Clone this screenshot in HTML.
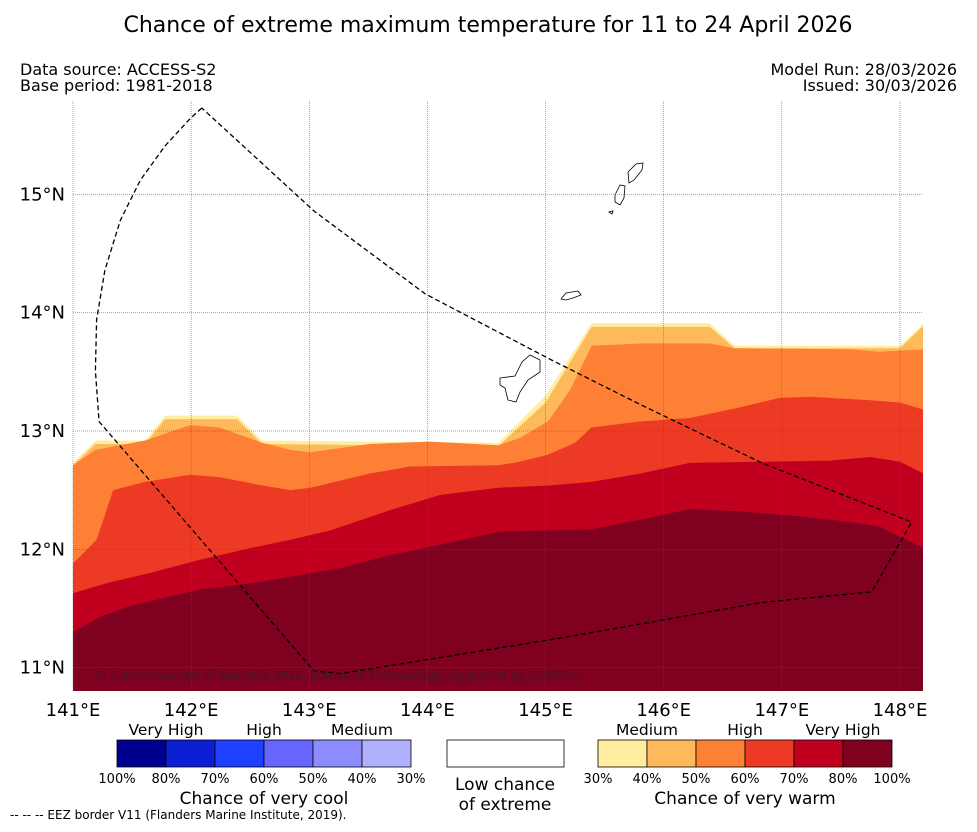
<!DOCTYPE html>
<html><head><meta charset="utf-8"><style>
body{margin:0;background:#fff;font-family:"Liberation Sans","DejaVu Sans",sans-serif;}
svg text{font-family:"DejaVu Sans","Liberation Sans",sans-serif;}
</style></head><body>
<svg id="c" width="977" height="827" xmlns="http://www.w3.org/2000/svg">
<text x="488" y="32" font-size="22" text-anchor="middle">Chance of extreme maximum temperature for 11 to 24 April 2026</text>
<text x="20" y="75" font-size="16">Data source: ACCESS-S2</text>
<text x="20" y="91" font-size="16">Base period: 1981-2018</text>
<text x="957" y="75" font-size="16" text-anchor="end">Model Run: 28/03/2026</text>
<text x="957" y="91" font-size="16" text-anchor="end">Issued: 30/03/2026</text>
<g id="map"></g>
<g id="legend"></g>
<text x="10" y="819" font-size="12">--  --  -- EEZ border V11 (Flanders Marine Institute, 2019).</text>
</svg>
<script>
const lon30=[141,141.19,141.61,141.78,142.39,142.6,144.6,145,145.39,146.39,146.6,148,148.2];
const lat30=[12.73,12.92,12.92,13.13,13.13,12.92,12.90,13.30,13.91,13.91,13.72,13.72,13.91];
const lon40=[141,141.19,141.61,141.78,142.39,142.6,144.6,145,145.39,146.39,146.6,148,148.2];
const lat40=[12.71,12.89,12.89,13.10,13.10,12.89,12.87,13.24,13.88,13.88,13.70,13.70,13.89];
const lon50=[141,141.19,141.61,141.99,142.24,142.6,142.84,143.01,143.51,144.02,144.6,144.78,145.02,145.21,145.39,145.8,146.39,146.6,147.58,147.83,148.2];
const lat50=[12.71,12.84,12.92,13.05,13.03,12.9,12.84,12.82,12.89,12.91,12.88,12.94,13.08,13.35,13.72,13.74,13.74,13.70,13.69,13.67,13.69];
const lon60=[141,141.2,141.34,141.61,141.99,142.24,142.6,142.84,143.01,143.51,143.85,144.6,144.78,145.02,145.25,145.39,145.8,146.22,146.65,146.98,147.24,147.75,148,148.2];
const lat60=[11.88,12.08,12.5,12.57,12.63,12.61,12.54,12.5,12.52,12.64,12.7,12.71,12.74,12.8,12.9,13.03,13.08,13.11,13.2,13.28,13.29,13.26,13.24,13.18];
const lon70=[141,141.31,141.65,142.07,142.5,142.84,143.18,143.68,144.11,144.6,145.04,145.39,145.8,146.22,146.82,147.41,147.75,148,148.2];
const lat70=[11.63,11.72,11.8,11.91,12.01,12.08,12.16,12.33,12.46,12.52,12.54,12.57,12.64,12.73,12.74,12.75,12.78,12.74,12.64];
const lon80=[141,141.23,141.48,142.07,142.41,142.67,143.26,143.68,144.11,144.61,145.04,145.39,145.8,146.22,146.65,147.15,147.58,147.83,148.2];
const lat80=[11.3,11.43,11.52,11.66,11.7,11.74,11.84,11.95,12.04,12.15,12.16,12.17,12.25,12.34,12.32,12.28,12.23,12.19,12.01];
const bandColors=['#ffeda0','#fdb95a','#fd8035','#ec3a25','#c10020','#800020'];
const bandNames=['band-30','band-40','band-50','band-60','band-70','band-80'];
const lonTicks=[141,142,143,144,145,146,147,148];
const latTicks=[11,12,13,14,15];
const eezLon=[142.09,141.99,141.78,141.57,141.4,141.27,141.2,141.19,141.22,141.22,143.04,143.27,144.2,145.13,145.98,146.83,147.76,148.1,146.83,145.81,145.05,143.98,143.04,142.09];
const eezLat=[15.73,15.64,15.41,15.12,14.78,14.36,13.94,13.51,13.09,13.08,10.97,10.95,11.1,11.25,11.4,11.55,11.64,12.23,12.73,13.22,13.6,14.16,14.86,15.73];
const X0=73,X1=923,Y0=101,Y1=691;
const x=l=>73+(l-141)*118.14;
const y=l=>431-(l-13)*118.3;
const NS='http://www.w3.org/2000/svg';
function mk(t,a,p){const e=document.createElementNS(NS,t);for(const k in a)e.setAttribute(k,a[k]);p.appendChild(e);return e;}
const map=document.getElementById('map');
const cp=mk('clipPath',{id:'clip'},map);mk('rect',{x:X0,y:Y0,width:X1-X0,height:Y1-Y0},cp);
const g=mk('g',{'clip-path':'url(#clip)'},map);
const bands=[[lon30,lat30],[lon40,lat40],[lon50,lat50],[lon60,lat60],[lon70,lat70],[lon80,lat80]];
bands.forEach((b,i)=>{
 let d='M'+x(b[0][0])+','+Y1;
 b[0].forEach((lo,j)=>{d+=' L'+x(lo).toFixed(1)+','+y(b[1][j]).toFixed(1);});
 d+=' L'+x(b[0][b[0].length-1])+','+Y1+' Z';
 const p=mk('path',{d:d,fill:bandColors[i]},g);
 
 
});
const isl=[
 'M500,378 L515,376 L522,362 L530,355 L540,360 L540,372 L528,380 L520,392 L516,402 L508,400 L505,388 L500,385 Z',
 'M561,299 L566,293 L578,291 L581,295 L573,298 L566,300 Z',
 'M628,172 L636,164 L643,163 L642,170 L634,180 L629,183 Z',
 'M615,195 L620,185 L625,186 L624,198 L620,205 L615,202 Z',
 'M609,212 L613,211 L612,214 Z'];
isl.forEach(d=>{const p=mk('path',{d:d,fill:'none',stroke:'#000','stroke-width':0.8},g);
 
 });
lonTicks.forEach(l=>{const ln=mk('line',{x1:x(l),x2:x(l),y1:Y0,y2:Y1,stroke:'#555','stroke-width':0.5,'stroke-dasharray':'1,1'},map);
 
 
 const t=mk('text',{x:x(l),y:716,'font-size':18,'text-anchor':'middle'},map);t.textContent=l+'°E';
 
 });
latTicks.forEach(l=>{const ln=mk('line',{x1:X0,x2:X1,y1:y(l),y2:y(l),stroke:'#555','stroke-width':0.5,'stroke-dasharray':'1,1'},map);
 
 
 const t=mk('text',{x:65,y:y(l)+6,'font-size':18,'text-anchor':'end'},map);t.textContent=l+'°N';
 
 });
const ez=mk('polyline',{points:eezLon.map((l,i)=>x(l).toFixed(1)+','+y(eezLat[i]).toFixed(1)).join(' '),fill:'none',stroke:'#000','stroke-width':1.3,'stroke-dasharray':'5,3'},map);


const cr=mk('text',{x:95,y:679,'font-size':11.5,fill:'#222','fill-opacity':0.7},map);cr.textContent='© Commonwealth of Australia 2026, Bureau of Meteorology, supported by COSPPac';


const lg=document.getElementById('legend');
const cool=['#00008e','#0d1fd4','#2040ff','#6666ff','#8c8cff','#b0b0ff'];
const coolPct=['100%','80%','70%','60%','50%','40%','30%'];
const warmPct=['30%','40%','50%','60%','70%','80%','100%'];
function bar(x0,cols,pcts,cats,title,nm){
 cols.forEach((c,i)=>{const r=mk('rect',{x:x0+i*49,y:740,width:49,height:27,fill:c,stroke:'#000','stroke-width':0.8},lg);
  
  });
 pcts.forEach((p,i)=>{const t=mk('text',{x:x0+i*49,y:783,'font-size':13,'text-anchor':'middle'},lg);t.textContent=p;
  
  });
 cats.forEach((c,i)=>{const t=mk('text',{x:x0+49+i*98,y:735,'font-size':15.5,'text-anchor':'middle'},lg);t.textContent=c;
  
  });
 const t=mk('text',{x:x0+147,y:804,'font-size':17,'text-anchor':'middle'},lg);t.textContent=title;
 
 
}
bar(117,cool,coolPct,['Very High','High','Medium'],'Chance of very cool','cool-legend');
bar(598,bandColors,warmPct,['Medium','High','Very High'],'Chance of very warm','warm-legend');
const lb=mk('rect',{x:447,y:740,width:117,height:27,fill:'#fff',stroke:'#000','stroke-width':0.8},lg);


const l1=mk('text',{x:505,y:790,'font-size':17,'text-anchor':'middle'},lg);l1.textContent='Low chance';


const l2=mk('text',{x:505,y:810,'font-size':17,'text-anchor':'middle'},lg);l2.textContent='of extreme';


</script>
</body></html>
